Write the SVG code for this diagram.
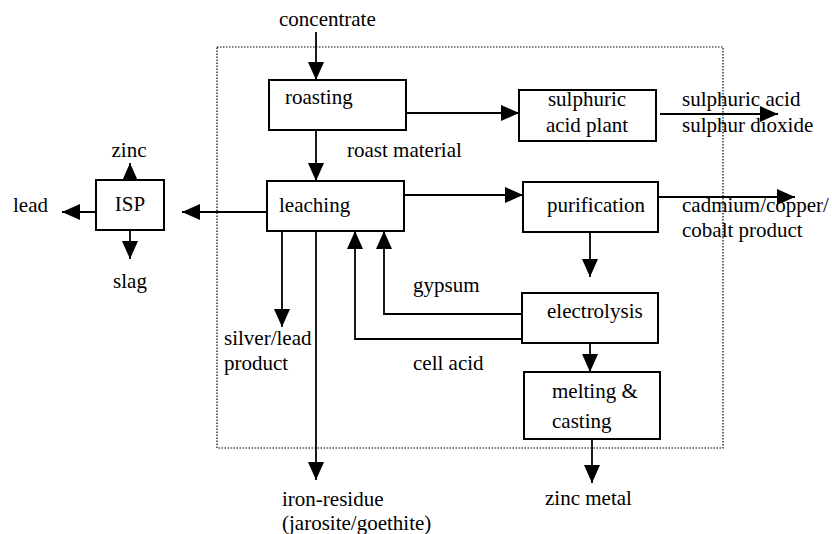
<svg xmlns="http://www.w3.org/2000/svg" width="832" height="534" viewBox="0 0 832 534">
<style>
  .box { fill: #fff; stroke: #000; stroke-width: 2; }
  .t { font-family: "Liberation Serif", "Times New Roman", serif; font-size: 21px; fill: #000; }
  .c { text-anchor: middle; }
  .ln { fill: none; stroke: #000; stroke-width: 1.8; }
  .arr { marker-end: url(#ah); }
  .frame { fill: none; stroke: #000; stroke-width: 1.2; stroke-dasharray: 1.5 1.5; }
</style>
<defs>
  <marker id="ah" markerUnits="userSpaceOnUse" markerWidth="18" markerHeight="16" refX="18" refY="8" orient="auto">
    <path d="M0,0 L18,8 L0,16 Z" fill="#000"/>
  </marker>
</defs>
<rect id="boundary" class="frame" x="217" y="47" width="506" height="401"/>
<g id="connectors">
  <line class="ln arr" x1="316" y1="32" x2="316" y2="80"/>
  <line class="ln arr" x1="406" y1="113" x2="519" y2="113"/>
  <line class="ln arr" x1="316" y1="130" x2="316" y2="181"/>
  <line class="ln arr" x1="660" y1="114" x2="778" y2="114"/>
  <line class="ln arr" x1="404" y1="195" x2="523" y2="195"/>
  <line class="ln arr" x1="658" y1="197" x2="795" y2="197"/>
  <line class="ln arr" x1="267" y1="212" x2="182" y2="212"/>
  <line class="ln arr" x1="96" y1="212" x2="62" y2="212"/>
  <line class="ln arr" x1="130" y1="190" x2="130" y2="163"/>
  <line class="ln arr" x1="130" y1="230" x2="130" y2="259"/>
  <line class="ln arr" x1="282" y1="231" x2="282" y2="327"/>
  <line class="ln arr" x1="316" y1="231" x2="316" y2="480"/>
  <line class="ln arr" x1="590" y1="232" x2="590" y2="277"/>
  <line class="ln arr" x1="590" y1="343" x2="590" y2="372"/>
  <line class="ln arr" x1="592" y1="439" x2="592" y2="483"/>
  <polyline class="ln arr" points="522,314 384,314 384,231"/>
  <polyline class="ln arr" points="522,339 355,339 355,231"/>
</g>
<g id="roasting">
  <rect class="box" x="269" y="80" width="137" height="50"/>
  <text class="t" x="285" y="104">roasting</text>
</g>
<g id="sulphuric-acid-plant">
  <rect class="box" x="519" y="90" width="137" height="51"/>
  <text class="t c" x="587" y="106">sulphuric</text>
  <text class="t c" x="587" y="132">acid plant</text>
</g>
<g id="leaching">
  <rect class="box" x="267" y="181" width="137" height="50"/>
  <text class="t" x="279" y="212">leaching</text>
</g>
<g id="purification">
  <rect class="box" x="523" y="182" width="135" height="50"/>
  <text class="t" x="547" y="212">purification</text>
</g>
<g id="isp">
  <rect class="box" x="96" y="180" width="68" height="50"/>
  <text class="t c" x="130" y="211">ISP</text>
</g>
<g id="electrolysis">
  <rect class="box" x="522" y="293" width="136" height="50"/>
  <text class="t" x="547" y="318">electrolysis</text>
</g>
<g id="melting-casting">
  <rect class="box" x="524" y="372" width="136" height="67"/>
  <text class="t" x="552" y="398">melting &amp;</text>
  <text class="t" x="552" y="428">casting</text>
</g>
<g id="labels">
  <text class="t" x="279" y="26">concentrate</text>
  <text class="t" x="347" y="157">roast material</text>
  <text class="t" x="682" y="106">sulphuric acid</text>
  <text class="t" x="682" y="132">sulphur dioxide</text>
  <text class="t" x="682" y="212">cadmium/copper/</text>
  <text class="t" x="682" y="237">cobalt product</text>
  <text class="t" x="13" y="212">lead</text>
  <text class="t c" x="129" y="157">zinc</text>
  <text class="t c" x="130" y="288">slag</text>
  <text class="t" x="224" y="345">silver/lead</text>
  <text class="t" x="224" y="370">product</text>
  <text class="t" x="413" y="292">gypsum</text>
  <text class="t" x="413" y="370">cell acid</text>
  <text class="t" x="282" y="506">iron-residue</text>
  <text class="t" x="282" y="530">(jarosite/goethite)</text>
  <text class="t" x="545" y="505">zinc metal</text>
</g>
</svg>
